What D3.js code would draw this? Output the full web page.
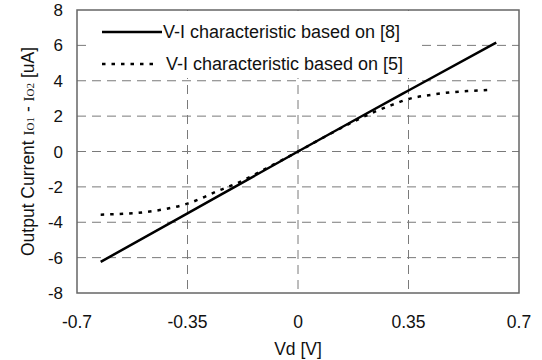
<!DOCTYPE html>
<head>
    <meta charset="utf-8">
    <title>V-I characteristic</title>
    <script src="https://d3js.org/d3.v7.min.js"></script>
    <style>
        body { margin: 0; background: white; }
        text { font-family: 'Liberation Sans', Arial, sans-serif; fill: #111; }
    </style>
</head>
<body>
<script>
//DATA
var xTicks = [-0.7, -0.35, 0, 0.35, 0.7];
var yTicks = [-8, -6, -4, -2, 0, 2, 4, 6, 8];

// based on [8] - nearly linear
var vd8 = [-0.625, -0.35, -0.2, 0, 0.2, 0.35, 0.628];
var io8 = [-6.24, -3.5, -2.0, 0, 1.98, 3.45, 6.16];

// based on [5] - saturating
var vd5 = [-0.625, -0.55, -0.49, -0.42, -0.35, -0.3, -0.25, -0.2, -0.1, 0, 0.1, 0.2, 0.25, 0.3, 0.35, 0.42, 0.48, 0.55, 0.612];
var io5 = [-3.57, -3.52, -3.44, -3.25, -2.95, -2.6, -2.2, -1.85, -0.95, 0, 0.98, 1.9, 2.3, 2.65, 2.97, 3.2, 3.34, 3.43, 3.49];

var legendLabels = ['V-I characteristic based on [8]', 'V-I characteristic based on [5]'];

//WINDOW
var W = 542, H = 360;
var m = {l: 77, r: 23, t: 10, b: 67};

var svg = d3.select('body').append('svg')
    .attr('width', W).attr('height', H);

var x = d3.scaleLinear().domain([-0.7, 0.7]).range([m.l, W - m.r]);
var y = d3.scaleLinear().domain([-8, 8]).range([H - m.b, m.t]);

//GRID
svg.append('g').selectAll('line').data(yTicks.slice(1, -1)).enter()
    .append('line')
    .attr('x1', x(-0.7)).attr('x2', x(0.7))
    .attr('y1', d => y(d)).attr('y2', d => y(d))
    .attr('stroke', '#7a7a7a').attr('stroke-width', 1)
    .attr('stroke-dasharray', '9,6');

svg.append('g').selectAll('line').data(xTicks.slice(1, -1)).enter()
    .append('line')
    .attr('x1', d => x(d)).attr('x2', d => x(d))
    .attr('y1', y(8)).attr('y2', y(-8))
    .attr('stroke', '#7a7a7a').attr('stroke-width', 1)
    .attr('stroke-dasharray', '9,6');

//LEGEND BOX (white, hides grid)
svg.append('rect')
    .attr('x', x(-0.7) + 9).attr('y', y(8) + 1)
    .attr('width', 334).attr('height', 67)
    .attr('fill', 'white');

//FRAME
svg.append('rect')
    .attr('x', x(-0.7)).attr('y', y(8))
    .attr('width', x(0.7) - x(-0.7)).attr('height', y(-8) - y(8))
    .attr('fill', 'none').attr('stroke', '#666').attr('stroke-width', 1.5);

//AXES LABELS
svg.append('g').selectAll('text').data(yTicks).enter()
    .append('text')
    .attr('x', m.l - 14).attr('y', d => y(d))
    .attr('dy', '0.36em')
    .attr('text-anchor', 'end')
    .style('font-size', '17px')
    .text(d => d);

svg.append('g').selectAll('text').data(xTicks).enter()
    .append('text')
    .attr('x', d => x(d)).attr('y', H - m.b + 35)
    .attr('text-anchor', 'middle')
    .style('font-size', '17.5px')
    .text(d => d);

svg.append('text')
    .attr('x', x(0)).attr('y', H - 5)
    .attr('text-anchor', 'middle')
    .style('font-size', '17.5px')
    .text('Vd [V]');

var yl = svg.append('text')
    .attr('transform', 'translate(34,' + y(0) + ') rotate(-90)')
    .attr('text-anchor', 'middle')
    .style('font-size', '17.5px');
yl.append('tspan').text('Output Current ');
yl.append('tspan').style('font-family', "'Liberation Serif', serif").style('font-size', '15px').text('I');
yl.append('tspan').style('font-family', "'Liberation Serif', serif").style('font-size', '11px').text('O1');
yl.append('tspan').text(' - ');
yl.append('tspan').style('font-family', "'Liberation Serif', serif").style('font-size', '15px').text('I');
yl.append('tspan').style('font-family', "'Liberation Serif', serif").style('font-size', '11px').text('O2');
yl.append('tspan').text(' [uA]');

//CURVES
var line = d3.line()
    .x(d => x(d[0])).y(d => y(d[1]))
    .curve(d3.curveMonotoneX);

svg.append('path')
    .datum(d3.zip(vd8, io8))
    .attr('d', line)
    .attr('fill', 'none').attr('stroke', '#000').attr('stroke-width', 2.5);

svg.append('path')
    .datum(d3.zip(vd5, io5))
    .attr('d', line)
    .attr('fill', 'none').attr('stroke', '#000').attr('stroke-width', 2.5)
    .attr('stroke-dasharray', '3.5,6');

//LEGEND
var leg = svg.append('g');
leg.selectAll('line').data(legendLabels).enter()
    .append('line')
    .attr('x1', 102).attr('x2', (d, i) => i ? 156 : 162)
    .attr('y1', (d, i) => 32 + i * 32).attr('y2', (d, i) => 32 + i * 32)
    .attr('stroke', '#000').attr('stroke-width', 2.5)
    .attr('stroke-dasharray', (d, i) => i ? '3.5,6' : null);

leg.selectAll('text').data(legendLabels).enter()
    .append('text')
    .attr('x', (d, i) => i ? 166 : 163)
    .attr('y', (d, i) => 32 + i * 32)
    .attr('dy', '0.36em')
    .style('font-size', '18px')
    .text(d => d);
</script>
</body>
